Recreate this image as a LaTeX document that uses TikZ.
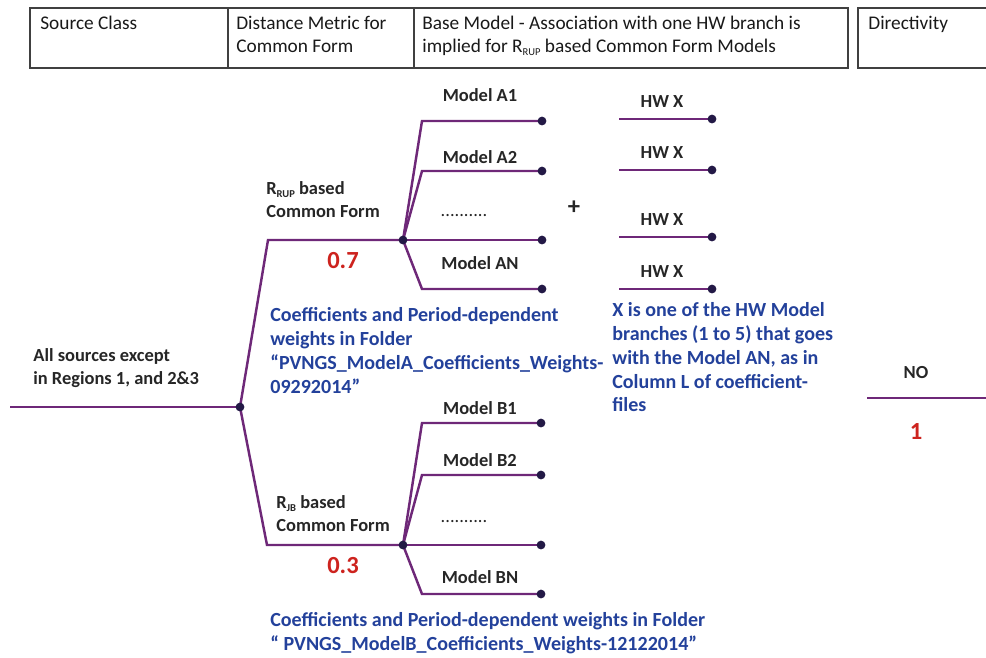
\documentclass[tikz,border=0pt]{standalone}
\usepackage{fontspec}
\setmainfont{Carlito}
\usetikzlibrary{calc}
\pgfdeclarelayer{bg}
\pgfsetlayers{bg,main}
\definecolor{branchcol}{RGB}{110,40,120}
\definecolor{dotcol}{RGB}{35,25,70}
\definecolor{foldblue}{RGB}{35,65,155}
\definecolor{weightred}{RGB}{205,35,30}
\newcommand{\tinysub}[1]{\raisebox{-0.35ex}{\fontsize{6}{7}\selectfont #1}}
\tikzstyle{dot}=[circle,fill=dotcol,minimum size=5pt,inner sep=0pt]
\tikzstyle{branchedge}=[draw=branchcol,line width=1.4pt]
\tikzstyle{headbox}=[draw=black!75,line width=0.8pt]
\tikzstyle{headtext}=[anchor=north west,inner sep=0pt,align=left,font=\fontsize{11}{13}\selectfont,text=black!90]
\tikzstyle{modellabel}=[inner sep=0pt,font=\bfseries\fontsize{10.5}{13}\selectfont,text=black!85]
\tikzstyle{formlabel}=[anchor=north west,inner sep=0pt,align=left,font=\bfseries\fontsize{10.5}{13}\selectfont,text=black!85]
\tikzstyle{folder}=[anchor=north west,inner sep=0pt,align=left,font=\bfseries\fontsize{11.4}{13.6}\selectfont,text=foldblue]
\tikzstyle{weight}=[inner sep=0pt,font=\bfseries\fontsize{14}{16}\selectfont,text=weightred]

\begin{document}
\begin{tikzpicture}[x=0.02cm,y=-0.02cm]
    \useasboundingbox (0,0) rectangle (986,657);

    % header row
    \draw[headbox] (30,8) rectangle (228,68);
    \draw[headbox] (228,8) rectangle (414,68);
    \draw[headbox] (414,8) rectangle (848,68);
    \draw[headbox] (986,8) -- (858,8) -- (858,68) -- (986,68);
    \node[headtext] (hsrc) at (40,16) {Source Class};
    \node[headtext] (hdist) at (236,16) {Distance Metric for\\Common Form};
    \node[headtext] (hbase) at (422,16) {Base Model - Association with one HW branch is\\implied for R\tinysub{RUP} based Common Form Models};
    \node[headtext] (hdir) at (868,16) {Directivity};

    % junctions
    \coordinate (src) at (10,407);
    \node[dot] (root) at (240,407) {};
    \coordinate (ka) at (268,240);
    \coordinate (kb) at (267,545);
    \node[dot] (A) at (403,240) {};
    \node[dot] (B) at (403,545) {};

    \begin{pgfonlayer}{bg}
    \draw[branchedge] (src) -- (root.center);
    \draw[branchedge] (root.center) -- (ka) -- (A.center);
    \draw[branchedge] (root.center) -- (kb) -- (B.center);
    \end{pgfonlayer}

    \foreach \y/\name in {121/a1, 171/a2, 240/a3, 289/a4} {
        \coordinate (\name k) at (422,\y);
        \node[dot] (\name) at (542,\y) {};
        \begin{pgfonlayer}{bg}
        \draw[branchedge] (A.center) -- (\name k) -- (\name.center);
        \end{pgfonlayer}
    }
    \foreach \y/\name in {423/b1, 475/b2, 545/b3, 594/b4} {
        \coordinate (\name k) at (422,\y);
        \node[dot] (\name) at (541,\y) {};
        \begin{pgfonlayer}{bg}
        \draw[branchedge] (B.center) -- (\name k) -- (\name.center);
        \end{pgfonlayer}
    }

    \foreach \pos/\name/\txt in {{(480,95)/la1/Model A1}, {(480,157)/la2/Model A2}, {(464,216)/la3/{\mdseries ..........}}, {(480,263)/la4/Model AN},
                                 {(480,408)/lb1/Model B1}, {(480,460)/lb2/Model B2}, {(464,522)/lb3/{\mdseries ..........}}, {(480,577)/lb4/Model BN}}
        \node[modellabel] (\name) at \pos {\txt};

    % HW branches
    \foreach \y/\name in {119/hw1, 170/hw2, 237/hw3, 289/hw4} {
        \coordinate (\name s) at (619,\y);
        \node[dot] (\name) at (712,\y) {};
        \begin{pgfonlayer}{bg}
        \draw[branchedge] (\name s) -- (\name.center);
        \end{pgfonlayer}
        \node[modellabel] (\name l) at (662,\y-17) {HW X};
    }
    \node[modellabel,font=\bfseries\fontsize{14}{16}\selectfont] (plus) at (574,208) {+};

    % distance metric labels
    \node[formlabel] (rrup) at (266,181) {R\tinysub{RUP} based\\Common Form};
    \node[formlabel] (rjb) at (276,495) {R\tinysub{JB} based\\Common Form};
    \node[weight] (wa) at (343,261) {0.7};
    \node[weight] (wb) at (343,566) {0.3};

    \node[formlabel] (allsrc) at (33,348) {All sources except\\in Regions 1, and 2\&3};

    \node[folder] (folda) at (270,307) {Coefficients and Period-dependent\\weights in Folder\\“PVNGS\_ModelA\_Coefficients\_Weights-\\09292014”};
    \node[folder] (foldb) at (270,612) {Coefficients and Period-dependent weights in Folder\\“ PVNGS\_ModelB\_Coefficients\_Weights-12122014”};
    \node[folder] (xnote) at (612,302) {X is one of the HW Model\\branches (1 to 5) that goes\\with the Model AN, as in\\Column L of coefficient-\\files};

    % directivity
    \coordinate (nos) at (867,398);
    \coordinate (noe) at (986,398);
    \draw[branchedge] (nos) -- (noe);
    \node[modellabel] (nolbl) at (916,373) {NO};
    \node[weight] (wno) at (916,431) {1};

\end{tikzpicture}
\end{document}
